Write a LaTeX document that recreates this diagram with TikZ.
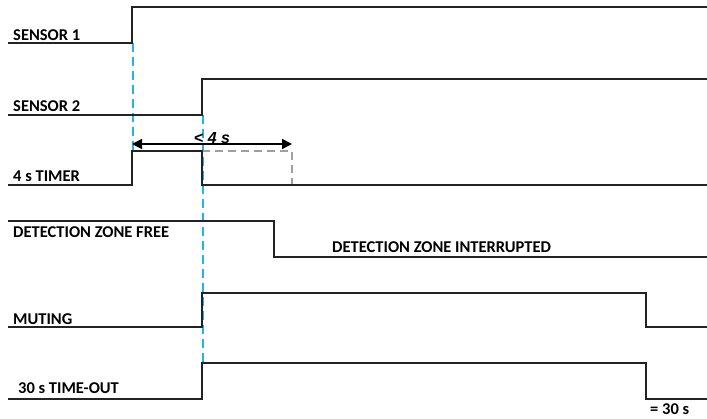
\documentclass[tikz,border=0pt]{standalone}
\usepackage{fontspec}
\setmainfont{Carlito}
\newfontfamily\arialfont{Liberation Sans}
\usepackage{tikz}
\usetikzlibrary{positioning,arrows.meta}
\definecolor{SigBlack}{RGB}{35,35,35}
\definecolor{MarkBlue}{RGB}{35,178,235}
\tikzset{
    siglabel/.style={anchor=base west, inner sep=0pt, font=\fontsize{16.5}{19}\selectfont\bfseries},
    signal/.style={draw=SigBlack, line width=1.4pt, line join=miter}
}

\begin{document}
\begin{tikzpicture}[
        x=1pt, y=-1pt,
        % --- MARKER LINES ---
        marker/.style={
            draw=MarkBlue,
            line width=1.4pt,
            dash pattern=on 9pt off 5pt
        },
        % --- GHOST OF THE TIMER ---
        ghost/.style={
            draw=gray!75,
            line width=1.2pt,
            dash pattern=on 8pt off 5pt
        },
        % --- TIME ARROW ---
        span/.style={
            draw=black,
            line width=1.5pt,
            {Triangle[length=10pt,width=10pt]}-{Triangle[length=10pt,width=10pt]}
        }
    ]
        \useasboundingbox (0,0) rectangle (707,418);

        % --- EVENT TIMES ---
        \coordinate (t1) at (132,0);
        \coordinate (t2) at (202,0);
        \coordinate (t3) at (274,0);
        \coordinate (t4) at (292,0);
        \coordinate (t5) at (646,0);

        % --- BLUE MARKERS ---
        \draw[marker] (133,43) -- (133,151);
        \draw[marker] (203,115) -- (203,363);

        % --- SENSOR 1 ---
        \node[siglabel] (s1) at (13,40) {SENSOR 1};
        \draw[signal] (8,43) -- (t1 |- 0,43) -- (t1 |- 0,7) -- (707,7);

        % --- SENSOR 2 ---
        \node[siglabel] (s2) at (13,111) {SENSOR 2};
        \draw[signal] (8,115) -- (t2 |- 0,115) -- (t2 |- 0,79) -- (707,79);

        % --- 4 s TIMER ---
        \node[siglabel] (tm) at (13,181) {4 s TIMER};
        \draw[ghost] (t2 |- 0,151) -- (t4 |- 0,151) -- (t4 |- 0,185);
        \draw[signal] (8,185) -- (t1 |- 0,185) -- (t1 |- 0,151) -- (t2 |- 0,151)
            -- (t2 |- 0,185) -- (707,185);
        \coordinate (a1) at (t1 |- 0,144);
        \coordinate (a2) at (t4 |- 0,144);
        \draw[span] (a1) -- (a2);
        \node[anchor=base, inner sep=0pt,
              font=\arialfont\fontsize{16}{18}\selectfont\bfseries\itshape]
              (lt) at (212,143) {<\ 4\ s};

        % --- DETECTION ZONE ---
        \node[siglabel] (dzf) at (13,237) {DETECTION ZONE FREE};
        \node[siglabel] (dzi) at (332,252) {DETECTION ZONE INTERRUPTED};
        \draw[signal] (8,221) -- (t3 |- 0,221) -- (t3 |- 0,257) -- (707,257);

        % --- MUTING ---
        \node[siglabel] (mu) at (13,324) {MUTING};
        \draw[signal] (8,327) -- (t2 |- 0,327) -- (t2 |- 0,293) -- (t5 |- 0,293)
            -- (t5 |- 0,327) -- (707,327);

        % --- 30 s TIME-OUT ---
        \node[siglabel] (to) at (18,393) {30 s TIME-OUT};
        \draw[signal] (8,399) -- (t2 |- 0,399) -- (t2 |- 0,363) -- (t5 |- 0,363)
            -- (t5 |- 0,399) -- (707,399);
        \node[siglabel] (eq) at (650,414) {= 30 s};

    \end{tikzpicture}
\end{document}
